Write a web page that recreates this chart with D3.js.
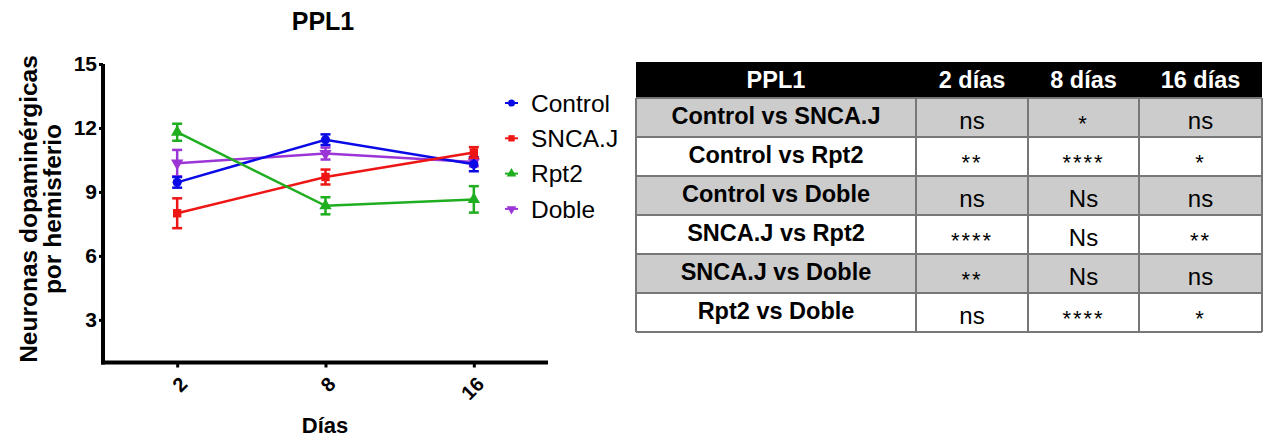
<!DOCTYPE html>
<html>
<head>
<meta charset="utf-8">
<script src="https://cdn.jsdelivr.net/npm/d3@7"></script>
<style>
  body { margin: 0; background: #fff; }
  svg text { font-family: "Liberation Sans", Arial, sans-serif; }
</style>
</head>
<body>
<div id="chart"></div>
<script>
// Days on the x axis
var days = ["2", "8", "16"];
var yTicks = [3, 6, 9, 12, 15];

// Series means and SEM
var seriesNames = ["Control", "SNCA.J", "Rpt2", "Doble"];
var controlVals = [9.45, 11.45, 10.3];
var controlErr  = [0.25, 0.25, 0.33];
var sncajVals   = [8.0, 9.7, 10.85];
var sncajErr    = [0.7, 0.35, 0.25];
var rpt2Vals    = [11.8, 8.35, 8.65];
var rpt2Err     = [0.4, 0.4, 0.62];
var dobleVals   = [10.35, 10.8, 10.4];
var dobleErr    = [0.62, 0.28, 0.2];

// Table of comparisons
var tableHeader = ["PPL1", "2 días", "8 días", "16 días"];
var comparisons = ["Control vs SNCA.J", "Control vs Rpt2", "Control vs Doble",
                   "SNCA.J vs Rpt2", "SNCA.J vs Doble", "Rpt2 vs Doble"];
var dia2  = ["ns", "**", "ns", "****", "**", "ns"];
var dia8  = ["*", "****", "Ns", "Ns", "Ns", "****"];
var dia16 = ["ns", "*", "ns", "**", "ns", "*"];

(function() {
  var W = 1265, H = 443;
  var margin = {top: 64, left: 103},
      width = 445,
      height = 298.5;

  var svg = d3.select("#chart").append("svg")
    .attr("width", W).attr("height", H);

  var g = svg.append("g")
    .attr("transform", "translate(" + margin.left + "," + margin.top + ")");

  var x = d3.scalePoint().domain(days).range([0, width]).padding(0.5);
  var y = d3.scaleLinear().domain([1, 15]).range([height, 0]);

  var colors = ["#0a0ae6", "#ee1515", "#1fae1f", "#9b35d6"];
  var symbols = [d3.symbolCircle, d3.symbolSquare, d3.symbolTriangle, d3.symbolTriangle];
  var vals = [controlVals, sncajVals, rpt2Vals, dobleVals];
  var errs = [controlErr, sncajErr, rpt2Err, dobleErr];

  var series = seriesNames.map(function(name, i) {
    return {
      name: name, color: colors[i], symbol: symbols[i], flip: i === 3,
      points: days.map(function(d, j) { return {day: d, v: vals[i][j], e: errs[i][j]}; })
    };
  });

  // Title
  svg.append("text")
    .attr("x", 323).attr("y", 30)
    .attr("text-anchor", "middle")
    .style("font-size", "25px").style("font-weight", "bold")
    .text("PPL1");

  // Y axis
  var yAxis = g.append("g")
    .call(d3.axisLeft(y).tickValues(yTicks).tickSize(4).tickPadding(2));
  yAxis.select(".domain").attr("stroke-width", 4).attr("d", "M0," + (height + 2) + "V0");
  yAxis.selectAll(".tick line").attr("stroke-width", 3);
  yAxis.selectAll("text")
    .style("font-size", "21px").style("font-weight", "bold")
    .attr("fill", "#000");

  // X axis
  var xAxis = g.append("g")
    .attr("transform", "translate(0," + height + ")")
    .call(d3.axisBottom(x).tickSize(5));
  xAxis.select(".domain").attr("stroke-width", 4).attr("d", "M-2,0H" + width);
  xAxis.selectAll(".tick line").attr("stroke-width", 3);
  xAxis.selectAll("text")
    .attr("text-anchor", "end")
    .attr("transform", "translate(6,18) rotate(-45)")
    .attr("y", 0).attr("dy", "0.35em")
    .style("font-size", "20px").style("font-weight", "bold")
    .attr("fill", "#000");

  // Axis labels
  svg.append("text")
    .attr("x", 325).attr("y", 433)
    .attr("text-anchor", "middle")
    .style("font-size", "22px").style("font-weight", "bold")
    .text("Días");

  var yl = svg.append("text")
    .attr("transform", "translate(37,209) rotate(-90)")
    .attr("text-anchor", "middle")
    .style("font-size", "24.5px").style("font-weight", "bold");
  yl.append("tspan").attr("x", 0).attr("y", 0).text("Neuronas dopaminérgicas");
  yl.append("tspan").attr("x", 0).attr("y", 24).text("por hemisferio");

  // Lines, error bars, markers
  var line = d3.line()
    .x(function(d) { return x(d.day); })
    .y(function(d) { return y(d.v); });

  var drawOrder = [3, 0, 1, 2];
  drawOrder.forEach(function(k) {
    var s = series[k];
    var sg = g.append("g");
    sg.append("path")
      .datum(s.points)
      .attr("d", line)
      .attr("fill", "none")
      .attr("stroke", s.color)
      .attr("stroke-width", 2.5);

    var eb = sg.selectAll(".eb").data(s.points).enter().append("g");
    eb.append("line")
      .attr("x1", function(d) { return x(d.day); })
      .attr("x2", function(d) { return x(d.day); })
      .attr("y1", function(d) { return y(d.v + d.e); })
      .attr("y2", function(d) { return y(d.v - d.e); })
      .attr("stroke", s.color).attr("stroke-width", 2.5);
    [1, -1].forEach(function(sign) {
      eb.append("line")
        .attr("x1", function(d) { return x(d.day) - 5; })
        .attr("x2", function(d) { return x(d.day) + 5; })
        .attr("y1", function(d) { return y(d.v + sign * d.e); })
        .attr("y2", function(d) { return y(d.v + sign * d.e); })
        .attr("stroke", s.color).attr("stroke-width", 2.5);
    });

    sg.selectAll(".pt").data(s.points).enter().append("path")
      .attr("d", d3.symbol().type(s.symbol).size(s.symbol === d3.symbolSquare ? 70 : 66))
      .attr("transform", function(d) {
        return "translate(" + x(d.day) + "," + y(d.v) + ")" + (s.flip ? " rotate(180)" : "");
      })
      .attr("fill", s.color);
  });

  // Legend
  var legend = svg.append("g").attr("transform", "translate(505,103)");
  var li = legend.selectAll("g").data(series).enter().append("g")
    .attr("transform", function(d, i) { return "translate(0," + (i * 35.3) + ")"; });
  li.append("line")
    .attr("x1", 0).attr("x2", 13).attr("y1", 0).attr("y2", 0)
    .attr("stroke", function(d) { return d.color; }).attr("stroke-width", 2);
  li.append("path")
    .attr("d", function(d) { return d3.symbol().type(d.symbol).size(40)(); })
    .attr("transform", function(d) { return "translate(6.5,0)" + (d.flip ? " rotate(180)" : ""); })
    .attr("fill", function(d) { return d.color; });
  li.append("text")
    .attr("x", 26).attr("y", 0).attr("dy", "0.36em")
    .style("font-size", "24.5px")
    .text(function(d) { return d.name; });

  // Table
  var colEdges = [636, 916, 1028, 1139, 1262];
  var tTop = 62, headH = 36, rowH = 39;
  var tbl = svg.append("g");

  tbl.append("rect")
    .attr("x", colEdges[0]).attr("y", tTop)
    .attr("width", colEdges[4] - colEdges[0]).attr("height", headH)
    .attr("fill", "#000");
  tableHeader.forEach(function(h, c) {
    tbl.append("text")
      .attr("x", (colEdges[c] + colEdges[c + 1]) / 2)
      .attr("y", tTop + headH / 2).attr("dy", "0.36em")
      .attr("text-anchor", "middle")
      .attr("fill", "#fff")
      .style("font-size", "23.5px").style("font-weight", "bold")
      .text(h);
  });

  var cols = [dia2, dia8, dia16];
  var rows = tbl.selectAll(".row").data(comparisons).enter().append("g")
    .attr("transform", function(d, i) { return "translate(0," + (tTop + headH + i * rowH) + ")"; });
  rows.append("rect")
    .attr("x", colEdges[0]).attr("y", 0)
    .attr("width", colEdges[4] - colEdges[0]).attr("height", rowH)
    .attr("fill", function(d, i) { return i % 2 === 0 ? "#cccccc" : "#ffffff"; });
  rows.append("text")
    .attr("x", (colEdges[0] + colEdges[1]) / 2)
    .attr("y", rowH / 2 - 2).attr("dy", "0.36em")
    .attr("text-anchor", "middle")
    .style("font-size", "23.5px").style("font-weight", "bold")
    .text(function(d) { return d; });
  cols.forEach(function(col, c) {
    rows.append("text")
      .attr("x", (colEdges[c + 1] + colEdges[c + 2]) / 2)
      .attr("y", function(d, i) { return rowH / 2 + (col[i].indexOf("*") === 0 ? 6 : 3); })
      .attr("dy", "0.36em")
      .attr("text-anchor", "middle")
      .style("font-size", function(d, i) { return col[i].indexOf("*") === 0 ? "22px" : "24px"; })
      .style("letter-spacing", function(d, i) { return col[i].indexOf("*") === 0 ? "2px" : "0"; })
      .text(function(d, i) { return col[i]; });
  });

  // Grid lines of the table
  var tBottom = tTop + headH + comparisons.length * rowH;
  colEdges.slice(1, 4).forEach(function(cx) {
    tbl.append("line")
      .attr("x1", cx).attr("x2", cx).attr("y1", tTop + headH).attr("y2", tBottom)
      .attr("stroke", "#777").attr("stroke-width", 2);
  });
  d3.range(comparisons.length + 1).forEach(function(i) {
    var yy = tTop + headH + i * rowH;
    tbl.append("line")
      .attr("x1", colEdges[0]).attr("x2", colEdges[4]).attr("y1", yy).attr("y2", yy)
      .attr("stroke", "#777").attr("stroke-width", 2);
  });
  [colEdges[0], colEdges[4]].forEach(function(cx) {
    tbl.append("line")
      .attr("x1", cx).attr("x2", cx).attr("y1", tTop + headH).attr("y2", tBottom)
      .attr("stroke", "#777").attr("stroke-width", 2);
  });
})();
</script>
</body>
</html>
